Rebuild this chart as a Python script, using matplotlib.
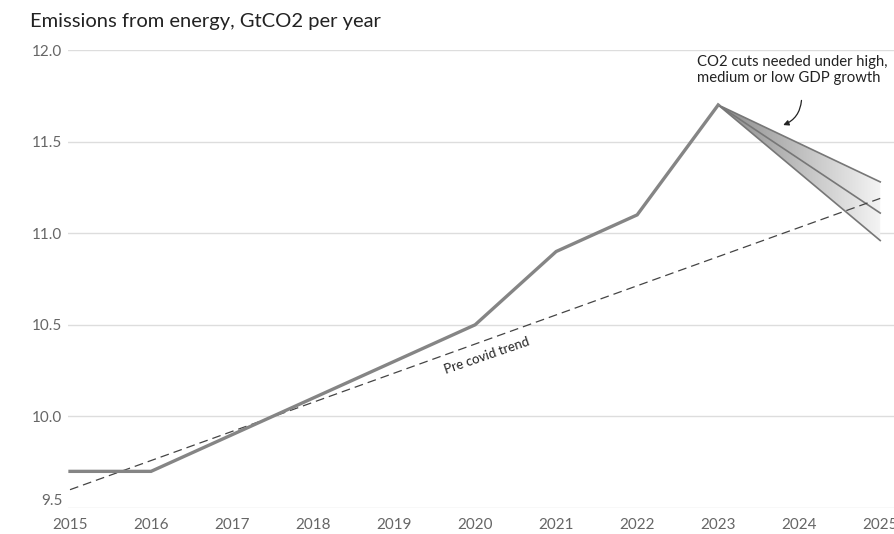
import numpy as np
import matplotlib
matplotlib.use("Agg")
import matplotlib.pyplot as plt
from matplotlib.patches import Polygon

# Emissions series (GtCO2 per year)
years = [2015, 2016, 2017, 2018, 2019, 2020, 2021, 2022, 2023]
emissions = [9.7, 9.7, 9.9, 10.1, 10.3, 10.5, 10.9, 11.1, 11.7]

# Pre-covid linear trend end points
trend_years = [2015, 2025]
trend_values = [9.6, 11.19]

# Required cut pathways from 2023 under high / medium / low GDP growth
path_years = [2023, 2025]
path_high = [11.7, 11.28]
path_medium = [11.7, 11.11]
path_low = [11.7, 10.96]

xticks = list(range(2015, 2026))
yticks = [9.5, 10.0, 10.5, 11.0, 11.5, 12.0]

plt.rcParams['font.family'] = ['Lato', 'DejaVu Sans']

fig = plt.figure(figsize=(8.94, 5.34), dpi=100)
ax = fig.add_axes([68 / 894, 26 / 534, 1 - 68 / 894, (508 - 50) / 534])

ax.set_xlim(2014.975, 2025.17)
ax.set_ylim(9.5, 12.0)

for s in ax.spines.values():
    s.set_visible(False)
ax.set_yticks(yticks)
ax.set_yticklabels([f"{v:.1f}" for v in yticks])
ax.set_xticks(xticks)
ax.set_xticklabels([str(y) for y in xticks])
ax.tick_params(length=0, labelsize=11, colors="#666666")
ax.tick_params(axis="y", pad=4)
ax.tick_params(axis="x", pad=7)
ax.grid(axis="y", color="#dddddd", linewidth=1)
ax.set_axisbelow(True)
# lift the bottom y label slightly so it clears the year labels
ax.get_yticklabels()[0].set_va("bottom")

# Shaded wedge between high and low pathways with a fading gradient
wedge = Polygon([[path_years[0], path_high[0]], [path_years[1], path_high[1]],
                 [path_years[1], path_low[1]]], closed=True,
                facecolor="none", edgecolor="none")
ax.add_patch(wedge)
grad = np.linspace(0.0, 1.0, 256).reshape(1, -1)
img = ax.imshow(grad, extent=[path_years[0], path_years[1], min(path_low), max(path_high)],
                cmap=matplotlib.colors.LinearSegmentedColormap.from_list(
                    "fade", ["#8a8a8a", "#f4f4f4"]),
                aspect="auto", origin="lower", zorder=2)
img.set_clip_path(wedge)

for vals in (path_high, path_medium, path_low):
    ax.plot(path_years, vals, color="#777777", linewidth=1.2, zorder=3)

ax.plot(trend_years, trend_values, color="#444444", linewidth=0.9,
        dashes=(7, 4), zorder=3)
ax.plot(years, emissions, color="#858585", linewidth=2.4, zorder=4,
        solid_joinstyle="miter")

ax.set_xlim(2014.975, 2025.17)
ax.set_ylim(9.5, 12.0)

ax.text(2020.15, 10.33, "Pre covid trend", rotation=19, fontsize=9.5,
        color="#222222", ha="center", va="center")

ax.text(2022.74, 11.975, "CO2 cuts needed under high,\nmedium or low GDP growth",
        fontsize=10.7, color="#222222", ha="left", va="top", linespacing=1.2)
ax.annotate("", xy=(2023.77, 11.585), xytext=(2024.03, 11.74),
            arrowprops=dict(arrowstyle="-|>", color="#222222", lw=0.9,
                            mutation_scale=8,
                            connectionstyle="arc3,rad=-0.35"))

fig.text(30 / 894, 1 - 22 / 534, "Emissions from energy, GtCO2 per year",
         fontsize=14.5, color="#222222", ha="left", va="center")

fig.savefig("out.png", dpi=100)
